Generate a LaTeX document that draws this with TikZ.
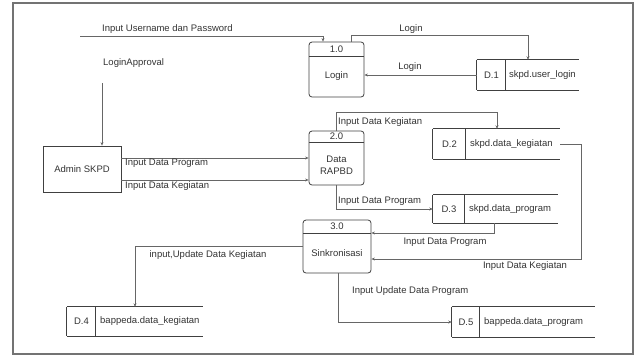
\documentclass[tikz,border=0pt]{standalone}
\usepackage{fontspec}
\setmainfont{Liberation Sans}
\usetikzlibrary{arrows.meta,calc}
\begin{document}
\begin{tikzpicture}[x=1pt,y=-1pt,
  font=\fontsize{9.5}{12}\selectfont,
  every node/.style={text=black!80, inner sep=0pt},
  line/.style={draw=black!60, line width=0.6pt},
  flow/.style={line, -{Stealth[length=3.5pt,width=3pt]}},
  proc/.style={draw=black!75, line width=0.8pt, rounded corners=3pt, rectangle},
  ent/.style={draw=black!75, line width=0.8pt, rectangle},
  storebox/.style={rectangle},
  storeline/.style={draw=black!75, line width=0.8pt},
  lbl/.style={anchor=west},
]
\useasboundingbox (0,0) rectangle (637,360);
\draw[black!55, line width=1.8pt] (13,3) rectangle (633,354);

% processes
\node[proc, minimum width=55pt, minimum height=55pt] (p1) at (336.5,69.5) {};
\draw[storeline] (309,56) -- (364,56);
\node (p1n) at (336.5,49) {1.0};
\node (p1t) at (336.5,76) {Login};

\node[proc, minimum width=55pt, minimum height=54pt] (p2) at (336.5,158) {};
\draw[storeline] (309,142) -- (364,142);
\node (p2n) at (336.5,136.5) {2.0};
\node[align=center] (p2t) at (336.5,165) {Data\\RAPBD};

\node[proc, minimum width=68pt, minimum height=53pt] (p3) at (337,246.5) {};
\draw[storeline] (303,233) -- (371,233);
\node (p3n) at (337,226.5) {3.0};
\node (p3t) at (337,253) {Sinkronisasi};

% entity
\node[ent, minimum width=78pt, minimum height=46pt] (adm) at (82,169) {Admin SKPD};

% stores
\node[storebox, minimum width=102pt, minimum height=30pt] (d1) at (528,75) {};
\draw[storeline] (d1.north west) -- (d1.north east) (d1.south west) -- (d1.south east)
  (d1.north west) -- (d1.south west) ([xshift=29pt]d1.north west) -- ([xshift=29pt]d1.south west);
\node (d1i) at (491.5,75) {D.1};
\node[lbl] (d1t) at (509,75) {skpd.user\_login};

\node[storebox, minimum width=127pt, minimum height=30pt] (d2) at (496.5,144) {};
\draw[storeline] (d2.north west) -- (d2.north east) (d2.south west) -- (d2.south east)
  (d2.north west) -- (d2.south west) ([xshift=33pt]d2.north west) -- ([xshift=33pt]d2.south west);
\node (d2i) at (449.5,144) {D.2};
\node[lbl] (d2t) at (470,144) {skpd.data\_kegiatan};

\node[storebox, minimum width=125pt, minimum height=28pt] (d3) at (495.5,209) {};
\draw[storeline] (d3.north west) -- (d3.north east) (d3.south west) -- (d3.south east)
  (d3.north west) -- (d3.south west) ([xshift=32pt]d3.north west) -- ([xshift=32pt]d3.south west);
\node (d3i) at (449,209) {D.3};
\node[lbl] (d3t) at (469,209) {skpd.data\_program};

\node[storebox, minimum width=136pt, minimum height=29pt] (d4) at (135,321.5) {};
\draw[storeline] (d4.north west) -- (d4.north east) (d4.south west) -- (d4.south east)
  (d4.north west) -- (d4.south west) ([xshift=29pt]d4.north west) -- ([xshift=29pt]d4.south west);
\node (d4i) at (81.5,321.5) {D.4};
\node[lbl] (d4t) at (100,321.5) {bappeda.data\_kegiatan};

\node[storebox, minimum width=143pt, minimum height=30pt] (d5) at (523.5,322) {};
\draw[storeline] (d5.north west) -- (d5.north east) (d5.south west) -- (d5.south east)
  (d5.north west) -- (d5.south west) ([xshift=28pt]d5.north west) -- ([xshift=28pt]d5.south west);
\node (d5i) at (466,322) {D.5};
\node[lbl] (d5t) at (484,322) {bappeda.data\_program};

% connectors
\coordinate (c1s) at (80,36);
\draw[flow] (c1s) -| ([xshift=-13.5pt]p1.north);
\draw[flow] ([xshift=14.5pt]p1.north) -- ++(0,-6) -| (d1.north);
\draw[flow] (d1.west) -- (p1.east |- d1.west);
\coordinate (c4s) at (102,83);
\draw[flow] (c4s) -- (c4s |- adm.north);
\draw[flow] ([yshift=11pt]adm.east) -- ([yshift=11pt]adm.east -| p2.west);
\draw[flow] ([yshift=-11pt]adm.east) -- ([yshift=-11pt]adm.east -| p2.west);
\draw[flow] ([xshift=-0.5pt]p2.north) -- ++(0,-18) -| ([xshift=0.5pt]d2.north);
\draw[flow] ([xshift=-0.5pt]p2.south) |- (d3.west);
\draw[flow] ([xshift=-1.5pt]d3.south) |- ([yshift=13.5pt]p3.east);
\draw[flow] (d2.east) -- ++(21,0) |- ([yshift=-12.5pt]p3.east);
\draw[flow] (p3.west) -| (d4.north);
\draw[flow] ([xshift=1pt]p3.south) |- (d5.west);

% labels
\node[lbl] (l1) at (102,29) {Input Username dan Password};
\node (l2) at (411,29) {Login};
\node (l3) at (410,67) {Login};
\node[lbl] (l4) at (103,63) {LoginApproval};
\node[lbl] (l5) at (125,163) {Input Data Program};
\node[lbl] (l6) at (125,186) {Input Data Kegiatan};
\node[lbl] (l7) at (338,122) {Input Data Kegiatan};
\node[lbl] (l8) at (338,201) {Input Data Program};
\node (l9) at (445,242) {Input Data Program};
\node (l10) at (525,266) {Input Data Kegiatan};
\node (l11) at (208,255) {input,Update Data Kegiatan};
\node[lbl] (l12) at (352,291) {Input Update Data Program};
\end{tikzpicture}
\end{document}
